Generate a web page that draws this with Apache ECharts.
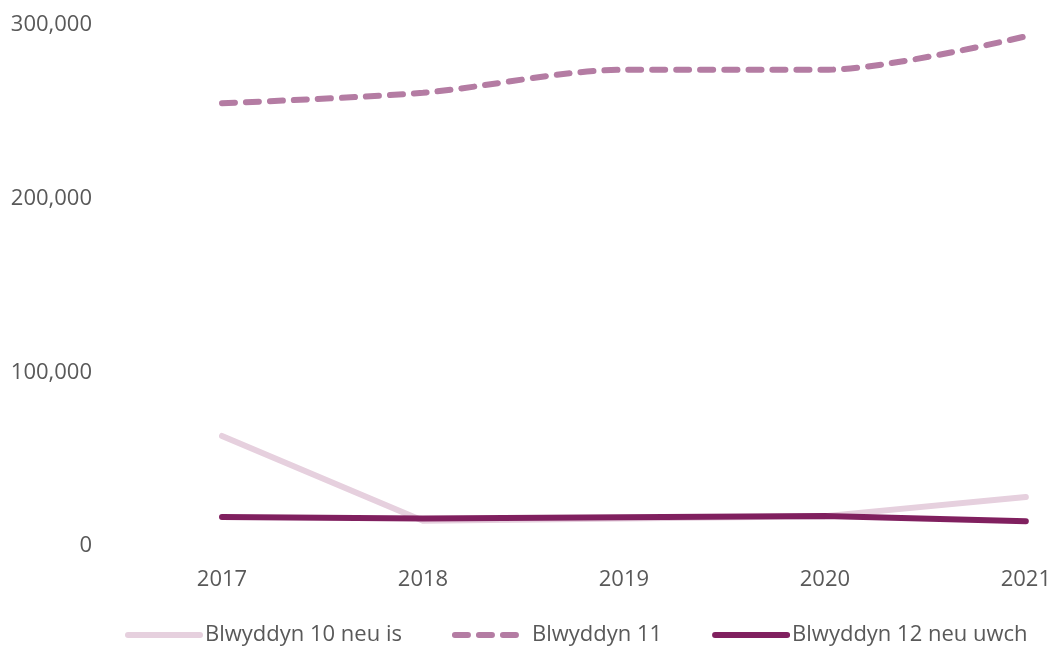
<!DOCTYPE html>
<html>
<head>
<meta charset="utf-8">
<script src="https://cdn.jsdelivr.net/npm/echarts@6/dist/echarts.min.js"></script>
<style>
  html, body { margin: 0; padding: 0; background: #fff; }
  #main { width: 1054px; height: 648px; }
</style>
</head>
<body>
<div id="main"></div>
<script>
  // data
  var years = ["2017", "2018", "2019", "2020", "2021"];
  var names = ["Blwyddyn 10 neu is", "Blwyddyn 11", "Blwyddyn 12 neu uwch"];
  var year10 = [63400, 14500, 15800, 17200, 28200];
  var year11 = [255000, 261000, 274200, 274200, 293500];
  var year12 = [16700, 15800, 16600, 17300, 14300];

  var myChart = echarts.init(document.getElementById("main"));

  var textColor = "#595959";
  var font = "'Open Sans', 'Noto Sans', sans-serif";

  var option = {
    animation: false,
    textStyle: { fontFamily: font },
    grid: { left: 222, right: 23, top: 25, bottom: 102 },
    legend: {
      top: 619,
      left: 120,
      itemWidth: 72,
      itemHeight: 10,
      itemGap: 50,
      itemStyle: { opacity: 0 },
      lineStyle: { width: 6 },
      textStyle: { color: textColor, fontSize: 22, fontFamily: font },
      data: names
    },
    xAxis: {
      type: "category",
      boundaryGap: false,
      data: years,
      axisLine: { show: false },
      axisTick: { show: false },
      axisLabel: { color: textColor, fontSize: 22, margin: 23, fontFamily: font }
    },
    yAxis: {
      type: "value",
      min: 0,
      max: 300000,
      interval: 100000,
      splitLine: { show: false },
      axisLine: { show: false },
      axisTick: { show: false },
      axisLabel: {
        color: textColor,
        fontSize: 22,
        margin: 130,
        fontFamily: font,
        formatter: function (v) { return v.toLocaleString("en-GB"); }
      }
    },
    series: [
      {
        name: names[0],
        type: "line",
        data: year10,
        symbol: "none",
        lineStyle: { color: "#e6d0de", width: 6, cap: "round", join: "round" },
        itemStyle: { color: "#e6d0de" }
      },
      {
        name: names[1],
        type: "line",
        data: year11,
        symbol: "none",
        smooth: 0.3,
        lineStyle: { color: "#b47ca3", width: 6, type: [13, 11], cap: "round" },
        itemStyle: { color: "#b47ca3" }
      },
      {
        name: names[2],
        type: "line",
        data: year12,
        symbol: "none",
        lineStyle: { color: "#80205f", width: 6, cap: "round", join: "round" },
        itemStyle: { color: "#80205f" }
      }
    ]
  };

  myChart.setOption(option);
</script>
</body>
</html>
